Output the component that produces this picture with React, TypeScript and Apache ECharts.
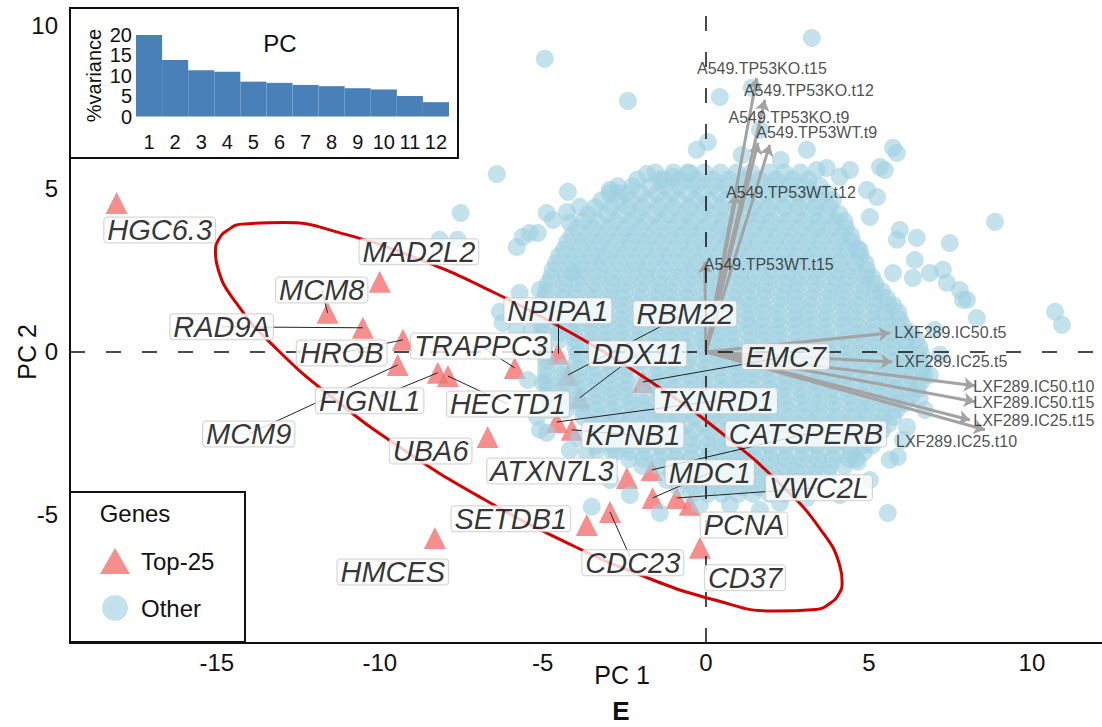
import { useEffect, useRef } from 'react';
import * as echarts from 'echarts';

const FONT = "'Liberation Sans', Arial, Helvetica, sans-serif";

// ---- scree inset ----
const pcNames = ['1', '2', '3', '4', '5', '6', '7', '8', '9', '10', '11', '12'];
const pcVariance = [19.9, 13.8, 11.3, 10.9, 8.5, 8.2, 7.7, 7.4, 6.9, 6.6, 5.0, 3.5];

// ---- main axes ----
const xTickValues = [-15, -10, -5, 0, 5, 10];
const yTickValues = [-5, 0, 5, 10];

// ---- top-25 genes (points) ----
const geneNames = ['HGC6.3', 'MAD2L2', 'MCM8', 'RAD9A', 'HROB', 'MCM9', 'FIGNL1', 'HECTD1', 'TRAPPC3', 'NPIPA1', 'RBM22', 'DDX11', 'EMC7', 'TXNRD1', 'KPNB1', 'UBA6', 'CATSPERB', 'ATXN7L3', 'MDC1', 'VWC2L', 'PCNA', 'CDC23', 'SETDB1', 'HMCES', 'CD37'];
const geneX = [-18.07, -10.0, -11.6, -10.52, -9.29, -9.45, -8.22, -7.91, -5.86, -4.54, -4.23, -3.87, -1.93, -4.57, -4.11, -6.69, -1.66, -2.42, -1.63, -0.89, -0.49, -2.94, -3.65, -8.31, -0.18];
const geneY = [4.57, 2.15, 1.2, 0.74, 0.37, -0.4, -0.64, -0.74, -0.49, -0.06, -0.71, -1.41, -0.92, -2.15, -2.39, -2.61, -3.62, -3.87, -4.48, -4.48, -4.69, -4.91, -5.31, -5.71, -6.01];
// repelled label anchors (data units) and whether a segment joins label and point
const geneLabelX = [-16.75, -8.8, -11.78, -14.85, -11.17, -14.02, -10.31, -6.07, -6.9, -4.54, -0.64, -2.09, 2.45, 0.31, -2.24, -8.44, 3.07, -4.72, 0.12, 3.47, 1.17, -2.24, -5.98, -9.6, 1.2];
const geneLabelY = [3.74, 3.07, 1.9, 0.77, -0.03, -2.52, -1.5, -1.6, 0.18, 1.26, 1.17, -0.06, -0.15, -1.5, -2.55, -3.04, -2.52, -3.65, -3.71, -4.17, -5.31, -6.47, -5.12, -6.75, -6.93];
const geneLinked = [0, 0, 1, 1, 1, 1, 1, 1, 1, 1, 1, 1, 1, 1, 1, 0, 1, 0, 1, 1, 0, 1, 0, 0, 0];

// ---- loadings (arrows) ----
const loadingNames = ['A549.TP53KO.t15', 'A549.TP53KO.t12', 'A549.TP53KO.t9', 'A549.TP53WT.t9', 'A549.TP53WT.t12', 'A549.TP53WT.t15', 'LXF289.IC50.t5', 'LXF289.IC25.t5', 'LXF289.IC50.t10', 'LXF289.IC50.t15', 'LXF289.IC25.t15', 'LXF289.IC25.t10'];
const loadingX = [1.56, 1.81, 1.6, 1.96, 0.95, -0.03, 5.64, 5.71, 8.25, 8.25, 8.1, 8.56];
const loadingY = [8.4, 7.73, 6.41, 6.35, 4.85, 2.76, 0.58, -0.31, -1.04, -1.53, -2.09, -2.39];
const loadingLabelX = [1.72, 3.16, 2.55, 3.4, 2.61, 1.93, 7.5, 7.53, 10.06, 10.06, 10.06, 7.69];
const loadingLabelY = [8.68, 8.01, 7.18, 6.72, 4.88, 2.67, 0.61, -0.28, -1.07, -1.56, -2.09, -2.76];

// ---- confidence ellipse outline ----
const ellipseX = [-4.0, -6.51, -8.94, -11.14, -12.95, -14.24, -14.67, -14.94, -15.04, -14.98, -14.38, -13.16, -11.42, -9.27, -6.86, -4.35, -1.92, 0.28, 2.09, 3.38, 3.81, 4.08, 4.18, 4.12, 3.52, 2.3, 0.56, -1.59, -4.0];
const ellipseY = [0.51, 1.83, 2.9, 3.63, 3.97, 3.92, 3.73, 3.45, 3.08, 2.62, 1.47, 0.09, -1.43, -3.0, -4.49, -5.81, -6.88, -7.61, -7.95, -7.9, -7.71, -7.43, -7.06, -6.6, -5.45, -4.07, -2.55, -0.98, 0.51];

// ---- other genes: dense core, listed by row (y, x values) ----
const otherRows: [number, number[]][] = [
  [5.5, [-1.55, -1.0, -0.55, -0.05, 0.45, 0.95, 1.4, 1.95, 2.4, 2.9]],
  [5.29, [-2.1, -1.3, -0.8, -0.3, 0.2, 0.7, 1.2, 1.65, 2.15, 2.65, 3.15]],
  [5.08, [-2.7, -2.25, -1.7, -1.25, -0.8, -0.3, 0.2, 0.65, 1.15, 1.7, 2.15, 2.6, 3.1, 3.5]],
  [4.87, [-2.95, -2.45, -2.0, -1.5, -1.05, -0.55, -0.1, 0.4, 0.9, 1.35, 1.85, 2.3, 2.8, 3.25, 3.7]],
  [4.65, [-3.2, -2.7, -2.3, -1.8, -1.3, -0.85, -0.35, 0.1, 0.6, 1.1, 1.55, 2.05, 2.55, 3.0, 3.45, 3.9]],
  [4.44, [-3.4, -2.9, -2.4, -1.95, -1.45, -1.0, -0.5, -0.05, 0.45, 0.95, 1.45, 1.9, 2.4, 2.85, 3.35, 3.8]],
  [4.22, [-3.6, -3.05, -2.6, -2.1, -1.6, -1.15, -0.65, -0.15, 0.3, 0.8, 1.3, 1.75, 2.25, 2.75, 3.25, 3.7, 4.1]],
  [4.01, [-3.75, -3.3, -2.8, -2.3, -1.85, -1.35, -0.85, -0.4, 0.1, 0.55, 1.05, 1.55, 2.0, 2.5, 3.0, 3.45, 3.95, 4.25]],
  [3.8, [-3.95, -3.45, -2.95, -2.45, -2.0, -1.5, -1.0, -0.5, -0.05, 0.45, 0.95, 1.45, 1.9, 2.4, 2.9, 3.4, 3.85, 4.3]],
  [3.58, [-4.1, -3.6, -3.1, -2.6, -2.15, -1.65, -1.15, -0.7, -0.2, 0.3, 0.75, 1.25, 1.75, 2.2, 2.7, 3.2, 3.65, 4.15, 4.45]],
  [3.37, [-4.25, -3.75, -3.25, -2.75, -2.3, -1.8, -1.3, -0.8, -0.35, 0.15, 0.65, 1.15, 1.6, 2.1, 2.6, 3.1, 3.55, 4.05, 4.5]],
  [3.15, [-4.35, -3.85, -3.35, -2.9, -2.4, -1.9, -1.45, -0.95, -0.45, 0.0, 0.5, 1.0, 1.45, 1.95, 2.45, 2.9, 3.4, 3.9, 4.35, 4.65]],
  [2.94, [-4.5, -4.0, -3.5, -3.05, -2.55, -2.05, -1.55, -1.1, -0.6, -0.1, 0.4, 0.85, 1.35, 1.85, 2.35, 2.8, 3.3, 3.8, 4.3, 4.75]],
  [2.72, [-4.6, -4.1, -3.6, -3.15, -2.65, -2.15, -1.7, -1.2, -0.7, -0.25, 0.25, 0.75, 1.2, 1.7, 2.2, 2.65, 3.15, 3.65, 4.1, 4.6, 4.9]],
  [2.51, [-4.7, -4.2, -3.75, -3.25, -2.75, -2.25, -1.8, -1.3, -0.8, -0.35, 0.15, 0.6, 1.1, 1.6, 2.05, 2.55, 3.05, 3.5, 4.0, 4.5, 4.95]],
  [2.29, [-4.75, -4.3, -3.8, -3.3, -2.85, -2.35, -1.85, -1.4, -0.9, -0.4, 0.05, 0.55, 1.05, 1.5, 2.0, 2.5, 2.95, 3.45, 3.95, 4.4, 4.9, 5.1]],
  [2.08, [-4.85, -4.35, -3.9, -3.4, -2.9, -2.45, -1.95, -1.45, -1.0, -0.5, 0.0, 0.45, 0.95, 1.4, 1.9, 2.4, 2.85, 3.35, 3.85, 4.3, 4.8, 5.2]],
  [1.86, [-4.9, -4.4, -3.95, -3.45, -2.95, -2.5, -2.0, -1.5, -1.05, -0.55, -0.05, 0.4, 0.9, 1.4, 1.85, 2.35, 2.8, 3.3, 3.8, 4.25, 4.75, 5.2, 5.4]],
  [1.65, [-4.95, -4.45, -4.0, -3.5, -3.0, -2.55, -2.05, -1.55, -1.1, -0.6, -0.15, 0.35, 0.85, 1.3, 1.8, 2.3, 2.75, 3.25, 3.75, 4.2, 4.7, 5.15, 5.55]],
  [1.43, [-4.95, -4.5, -4.0, -3.55, -3.05, -2.55, -2.1, -1.6, -1.1, -0.65, -0.15, 0.3, 0.8, 1.3, 1.75, 2.25, 2.75, 3.2, 3.7, 4.2, 4.65, 5.15, 5.6, 5.75]],
  [1.22, [-5.0, -4.5, -4.05, -3.55, -3.1, -2.6, -2.1, -1.65, -1.15, -0.7, -0.2, 0.3, 0.75, 1.25, 1.75, 2.2, 2.7, 3.15, 3.65, 4.15, 4.6, 5.1, 5.5, 5.9]],
  [1.0, [-5.0, -4.55, -4.05, -3.6, -3.1, -2.6, -2.15, -1.65, -1.15, -0.7, -0.2, 0.25, 0.75, 1.25, 1.7, 2.2, 2.7, 3.15, 3.65, 4.15, 4.6, 5.1, 5.55, 5.95]],
  [0.8, [-5.05, -4.55, -4.05, -3.55, -3.1, -2.6, -2.1, -1.6, -1.15, -0.65, -0.15, 0.3, 0.8, 1.3, 1.75, 2.25, 2.75, 3.2, 3.7, 4.2, 4.65, 5.15, 5.6, 6.05]],
  [0.58, [-5.0, -4.5, -4.05, -3.55, -3.05, -2.6, -2.1, -1.6, -1.1, -0.65, -0.15, 0.35, 0.8, 1.3, 1.8, 2.25, 2.75, 3.25, 3.7, 4.2, 4.7, 5.15, 5.65, 6.1, 6.3]],
  [0.37, [-5.0, -4.5, -4.0, -3.5, -3.05, -2.55, -2.05, -1.55, -1.1, -0.6, -0.1, 0.35, 0.85, 1.35, 1.8, 2.3, 2.8, 3.25, 3.75, 4.25, 4.7, 5.2, 5.65, 6.1, 6.45]],
  [0.15, [-4.95, -4.0, -3.5, -3.0, -2.5, -2.05, -1.55, -1.05, -0.6, -0.1, 0.4, 0.85, 1.35, 1.85, 2.3, 2.8, 3.3, 3.75, 4.25, 4.75, 5.2, 5.7, 6.15, 6.55]],
  [-0.06, [-4.95, -3.95, -3.45, -2.95, -2.5, -2.0, -1.5, -1.0, -0.55, -0.05, 0.4, 0.9, 1.4, 1.85, 2.35, 2.85, 3.3, 3.8, 4.3, 4.75, 5.25, 5.7, 6.15, 6.6]],
  [-0.28, [-4.9, -3.95, -3.45, -2.95, -2.45, -2.0, -1.5, -1.0, -0.55, -0.05, 0.45, 0.9, 1.4, 1.9, 2.35, 2.85, 3.35, 3.8, 4.3, 4.8, 5.25, 5.75, 6.2, 6.65]],
  [-0.49, [-4.9, -4.4, -3.9, -3.4, -2.9, -2.45, -1.95, -1.45, -1.0, -0.5, 0.0, 0.45, 0.95, 1.45, 1.9, 2.4, 2.9, 3.35, 3.85, 4.35, 4.8, 5.3, 5.75, 6.2, 6.65]],
  [-0.71, [-4.9, -4.4, -3.9, -3.45, -2.95, -2.45, -1.5, -1.0, -0.5, -0.05, 0.45, 0.95, 1.4, 1.9, 2.4, 2.85, 3.35, 3.85, 4.3, 4.8, 5.3, 5.75, 6.25, 6.7]],
  [-0.92, [-4.9, -4.4, -3.9, -3.4, -2.95, -2.45, -1.95, -1.5, -1.0, -0.5, -0.05, 0.45, 0.95, 1.4, 1.9, 2.4, 2.85, 3.35, 3.85, 4.3, 4.8, 5.3, 5.75, 6.2, 6.6]],
  [-1.14, [-4.85, -4.4, -3.9, -3.4, -2.9, -2.45, -1.45, -1.0, -0.5, 0.0, 0.5, 0.95, 1.45, 1.95, 2.4, 2.9, 3.4, 3.85, 4.35, 4.85, 5.3, 5.8, 6.25, 6.5]],
  [-1.35, [-4.85, -4.35, -3.85, -3.35, -2.9, -2.4, -1.9, -1.4, -0.95, -0.45, 0.05, 0.5, 1.0, 1.5, 1.95, 2.45, 2.95, 3.4, 3.9, 4.4, 4.85, 5.35, 5.8, 6.3]],
  [-1.57, [-4.8, -4.3, -3.85, -3.35, -2.85, -2.35, -1.9, -1.4, -0.9, -0.45, 0.05, 0.55, 1.0, 1.5, 2.0, 2.45, 2.95, 3.45, 3.9, 4.4, 4.9, 5.35, 5.85, 6.1]],
  [-1.78, [-4.8, -4.3, -3.8, -3.35, -2.85, -2.35, -1.85, -1.4, -0.9, -0.4, 0.1, 0.55, 1.05, 1.55, 2.0, 2.5, 3.0, 3.45, 3.95, 4.45, 4.9, 5.4, 5.85]],
  [-2.0, [-3.75, -3.25, -2.75, -2.3, -1.8, -1.3, -0.85, -0.35, 0.15, 0.6, 1.1, 1.6, 2.05, 2.55, 3.05, 3.5, 4.0, 4.5, 4.95, 5.45, 5.75]],
  [-2.21, [-3.5, -3.0, -2.55, -2.05, -1.55, -1.1, -0.6, -0.1, 0.35, 0.85, 1.35, 1.8, 2.3, 2.8, 3.25, 3.75, 4.25, 4.7, 5.2, 5.6]],
  [-2.43, [-3.25, -2.75, -2.25, -1.8, -1.3, -0.8, -0.35, 0.15, 0.65, 1.1, 1.6, 2.1, 2.55, 3.05, 3.55, 4.0, 4.5, 4.95, 5.4]],
  [-2.64, [-3.9, -3.4, -2.9, -2.45, -1.95, -1.45, -0.95, -0.5, 0.0, 0.5, 0.95, 1.45, 1.95, 2.4, 2.9, 3.4, 3.85, 4.35, 4.8, 5.25]],
  [-2.86, [-3.35, -2.85, -2.4, -1.9, -1.4, -0.95, -0.45, 0.05, 0.5, 1.0, 1.5, 1.95, 2.45, 2.95, 3.4, 3.9, 4.4, 4.85, 5.1]],
  [-3.07, [-2.75, -2.3, -1.8, -1.3, -0.85, -0.35, 0.15, 0.6, 1.1, 1.6, 2.05, 2.55, 3.05, 3.5, 4.0, 4.45, 4.85]],
  [-3.29, [-2.35, -1.9, -1.4, -0.9, -0.45, 0.05, 0.55, 1.0, 1.5, 2.0, 2.45, 2.95, 3.45, 3.9, 4.4, 4.6]],
  [-3.5, [-1.95, -1.45, -1.0, -0.5, 0.0, 0.45, 0.95, 1.45, 1.9, 2.4, 2.85, 3.35, 3.8, 4.25]],
  [-3.72, [-1.05, -0.55, -0.1, 0.4, 0.9, 1.35, 1.85, 2.35, 2.8, 3.3, 3.75]],
  [-3.93, [-1.2, -0.7, -0.25, 0.25, 0.75, 1.2, 1.7, 2.2, 2.65, 3.1]],
  [-4.15, [-0.85, -0.35, 0.15, 0.6, 1.1, 1.6, 2.05, 2.55, 2.9]],
  [-4.36, [-0.45, 0.05, 0.5, 1.0, 1.45, 1.95, 2.4]],
];

// ---- other genes: scattered outer points ----
const otherScattered: [number, number][] = [
  [3.25, 9.63], [-4.94, 8.99], [-2.39, 7.7], [0.43, 7.82], [1.41, 8.1], [1.66, 6.81], [1.1, 6.04], [2.3, 5.89],
  [-0.28, 6.2], [0.06, 6.44], [3.1, 6.2], [3.71, 5.64], [5.74, 6.26], [5.34, 5.67], [4.42, 5.58],
  [-6.41, 5.46], [-7.52, 4.26], [-8.16, 3.44], [-7.61, 3.44], [-5.61, 3.53], [-5.15, 3.65], [-4.88, 4.26],
  [-4.26, 4.29], [-3.87, 4.45], [-4.23, 4.91], [-2.94, 4.97], [-2.73, 4.88], [-1.81, 5.46], [-1.41, 5.28],
  [-1.01, 5.37], [-0.49, 5.49], [-5.8, 3.22], [-5.4, 3.65], [-4.69, 4.05], [-4.17, 3.96], [-5.71, 1.81],
  [-5.09, 1.9], [-4.08, 2.42], [-6.32, 1.23], [-6.23, 0.89], [-5.8, 0.67], [-5.34, 0.67], [-5.46, -0.86],
  [-5.0, -0.95], [-5.18, -1.99], [-5.09, -2.39], [-4.88, -2.48], [-4.17, -3.01], [-3.65, -3.1], [-3.34, -3.01],
  [-2.85, -3.07], [-3.5, -4.75], [-1.41, -4.94], [2.27, -4.63], [3.1, -4.48], [5.58, -4.94], [4.66, -3.37],
  [5.89, -3.22], [6.17, -2.3], [6.56, -1.41], [6.04, -2.7], [3.4, 5.58], [4.11, 5.37], [5.49, 5.58],
  [5.86, 6.1], [8.87, 3.99], [7.48, 3.34], [5.95, 3.74], [6.47, 3.5], [5.86, 3.44], [6.41, 2.82], [6.87, 2.42],
  [7.27, 2.52], [7.39, 2.12], [7.79, 1.9], [8.01, 1.6], [8.31, 1.04], [10.71, 1.23], [10.92, 0.83], [5.74, 2.42],
  [6.35, 2.27], [4.94, 4.97], [5.25, 4.75], [5.03, 4.14], [4.72, 3.13], [7.88, 1.6], [7.02, 0.67], [7.18, -0.09],
  [6.87, -0.71], [6.72, -1.78], [5.64, -3.31], [5.03, -3.93], [4.11, -4.39], [1.66, -4.85], [0.74, -4.69],
  [-0.18, -4.69], [-2.33, -4.39], [-2.94, -3.93],
];

export default function App() {
  const ref = useRef<HTMLDivElement>(null);

  useEffect(() => {
    if (!ref.current) return;
    const chart = echarts.init(ref.current, null, { renderer: 'svg' });

    const otherPoints: [number, number][] = [];
    otherRows.forEach(([y, xs]) => xs.forEach((x) => otherPoints.push([x, y])));
    otherScattered.forEach((p) => otherPoints.push(p));

    const connectors = geneNames
      .map((n, i) => ({ n, i }))
      .filter(({ i }) => geneLinked[i] === 1)
      .map(({ i }) => ({ coords: [[geneLabelX[i], geneLabelY[i]], [geneX[i], geneY[i]]] }));

    const centered = { textAlign: 'center', textVerticalAlign: 'middle', align: 'center', verticalAlign: 'middle' };

    const option: any = {
      animation: false,
      textStyle: { fontFamily: FONT },
      grid: [
        { left: 70, top: 8, width: 1032, height: 635 },
        { left: 136, top: 34.5, width: 313, height: 82 },
      ],
      xAxis: [
        {
          type: 'value', gridIndex: 0, min: -19.5, max: 12.15,
          axisLine: { show: true, onZero: false, lineStyle: { color: '#111', width: 2 } },
          axisTick: { show: false }, splitLine: { show: false },
          axisLabel: { customValues: xTickValues, fontSize: 24, color: '#111', margin: 7 },
        },
        {
          type: 'category', gridIndex: 1, data: pcNames, z: 14,
          axisLine: { show: false }, axisTick: { show: false }, splitLine: { show: false },
          axisLabel: { fontSize: 20, color: '#111', margin: 15, interval: 0 },
        },
      ],
      yAxis: [
        {
          type: 'value', gridIndex: 0, min: -8.93, max: 10.55,
          axisLine: { show: true, onZero: false, lineStyle: { color: '#111', width: 2 } },
          axisTick: { show: false }, splitLine: { show: false },
          axisLabel: { customValues: yTickValues, fontSize: 24, color: '#111', margin: 12 },
        },
        {
          type: 'value', gridIndex: 1, min: 0, max: 20, interval: 5, z: 14,
          axisLine: { show: false }, axisTick: { show: false }, splitLine: { show: false },
          axisLabel: { fontSize: 20, color: '#111', margin: 4 },
          name: '%variance', nameLocation: 'middle', nameGap: 32,
          nameTextStyle: { fontSize: 20, color: '#111' },
        },
      ],
      legend: {
        data: [{ name: 'Top-25', icon: 'triangle' }, { name: 'Other', icon: 'circle' }],
        orient: 'vertical', left: 95, top: 543, itemWidth: 30, itemHeight: 26, itemGap: 21,
        selectedMode: false, z: 20,
        textStyle: { fontSize: 24, color: '#111', padding: [0, 0, 0, 6] },
      },
      graphic: [
        { type: 'rect', z: 10, shape: { x: 70, y: 8, width: 388, height: 150 }, style: { fill: '#fff', stroke: '#111', lineWidth: 2 } },
        { type: 'text', z: 13, x: 280, y: 43, style: { text: 'PC', fontSize: 24, fontFamily: FONT, fill: '#111', ...centered } },
        { type: 'rect', z: 3, shape: { x: 70, y: 492, width: 175, height: 150 }, style: { fill: '#fff', stroke: '#111', lineWidth: 2 } },
        { type: 'text', z: 21, x: 135, y: 513, style: { text: 'Genes', fontSize: 24, fontFamily: FONT, fill: '#111', ...centered } },
        { type: 'text', z: 21, x: 27, y: 352, rotation: Math.PI / 2, style: { text: 'PC 2', fontSize: 25, fontFamily: FONT, fill: '#111', ...centered } },
        { type: 'text', z: 21, x: 622, y: 675, style: { text: 'PC 1', fontSize: 25, fontFamily: FONT, fill: '#111', ...centered } },
        { type: 'text', z: 21, x: 621, y: 711, style: { text: 'E', fontSize: 26, fontWeight: 'bold', fontFamily: FONT, fill: '#111', ...centered } },
      ],
      series: [
        {
          name: 'Top-25', type: 'scatter', z: 1, silent: true,
          symbol: 'triangle', symbolSize: 22,
          itemStyle: { color: '#f3726f' },
          data: geneNames.map((n, i) => ({ name: n, value: [geneX[i], geneY[i]] })),
        },
        {
          name: 'Other', type: 'scatter', z: 2, silent: true,
          symbol: 'circle', symbolSize: 18,
          itemStyle: { color: '#a0d0e0', opacity: 0.62 },
          data: otherPoints,
        },
        {
          type: 'lines', coordinateSystem: 'cartesian2d', z: 4, silent: true,
          symbol: ['none', 'arrow'], symbolSize: 11,
          lineStyle: { color: '#a3a3a3', width: 3, opacity: 1, curveness: 0 },
          data: loadingNames.map((n, i) => ({ name: n, coords: [[0, 0], [loadingX[i], loadingY[i]]] })),
        },
        {
          type: 'line', z: 5, silent: true, smooth: 0.5, showSymbol: false,
          lineStyle: { color: '#d40000', width: 3 },
          data: ellipseX.map((x, i) => [x, ellipseY[i]]),
          markLine: {
            silent: true, symbol: 'none', label: { show: false },
            lineStyle: { color: '#111', type: [15, 21], width: 1.5 },
            data: [{ xAxis: 0 }, { yAxis: 0 }],
          },
        },
        {
          type: 'lines', coordinateSystem: 'cartesian2d', z: 6, silent: true,
          symbol: ['none', 'none'],
          lineStyle: { color: '#222', width: 1, opacity: 1, curveness: 0 },
          data: connectors,
        },
        {
          type: 'scatter', z: 7, silent: true, symbolSize: 1,
          itemStyle: { color: 'rgba(0,0,0,0)' },
          label: {
            show: true, position: 'inside', formatter: '{b}',
            fontSize: 29, fontStyle: 'italic', fontFamily: FONT, color: '#000',
            backgroundColor: '#fff', borderColor: '#c8c8c8', borderWidth: 1, borderRadius: 3,
            padding: [1, 3, 0, 3], lineHeight: 24,
          },
          labelLayout: { hideOverlap: false },
          data: geneNames.map((n, i) => ({ name: n, value: [geneLabelX[i], geneLabelY[i]] })),
        },
        {
          type: 'scatter', z: 8, silent: true, symbolSize: 1,
          itemStyle: { color: 'rgba(0,0,0,0)' },
          label: {
            show: true, position: 'inside', formatter: '{b}',
            fontSize: 16, fontFamily: FONT, color: '#222',
          },
          labelLayout: { hideOverlap: false },
          data: loadingNames.map((n, i) => ({ name: n, value: [loadingLabelX[i], loadingLabelY[i]] })),
        },
        {
          type: 'bar', xAxisIndex: 1, yAxisIndex: 1, z: 12, silent: true,
          barCategoryGap: '0%',
          itemStyle: { color: '#4a80b8' },
          data: pcVariance,
        },
      ],
    };

    chart.setOption(option);
    return () => chart.dispose();
  }, []);

  return <div ref={ref} style={{ position: 'absolute', left: 0, top: 0, width: 1102, height: 727 }} />;
}
